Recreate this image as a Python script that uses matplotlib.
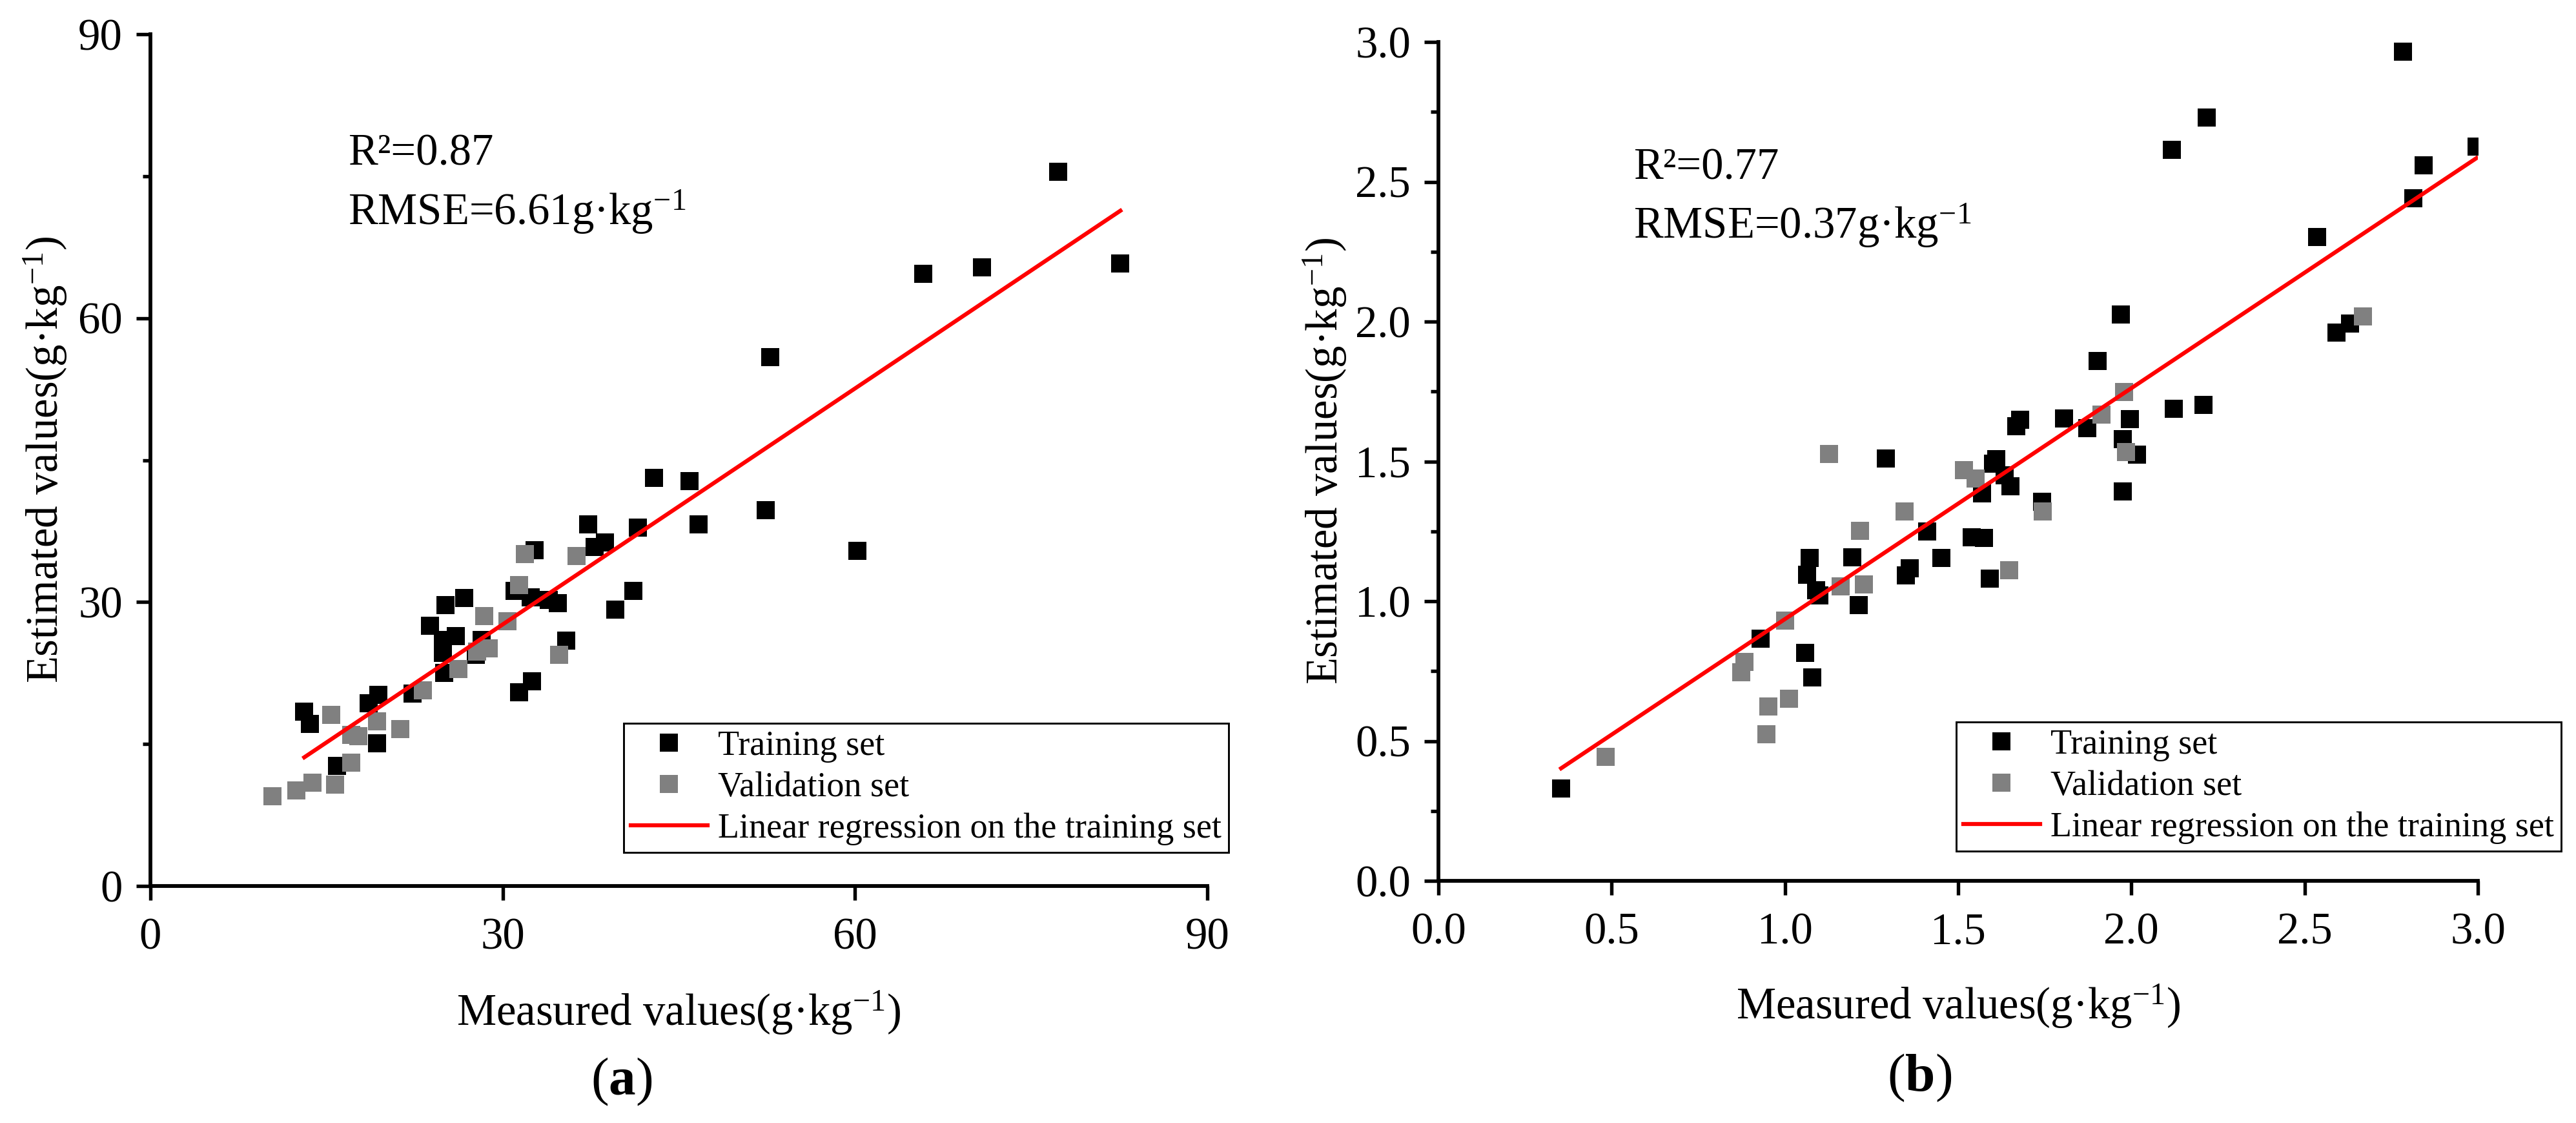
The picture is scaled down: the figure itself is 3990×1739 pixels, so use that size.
import matplotlib
matplotlib.use("Agg")
import matplotlib.pyplot as plt
from matplotlib.ticker import MultipleLocator, FormatStrFormatter
import numpy as np

plt.rcParams['font.family'] = ['Liberation Serif', 'DejaVu Serif']
plt.rcParams['mathtext.fontset'] = 'custom'
plt.rcParams['mathtext.rm'] = 'Liberation Serif'
plt.rcParams['mathtext.it'] = 'Liberation Serif:italic'
plt.rcParams['mathtext.bf'] = 'Liberation Serif:bold'

# ---------------- data: panel (a) ----------------
a_train_x = [77.3, 65.8, 70.8, 82.6, 52.8, 42.9, 45.9, 52.4, 46.7, 37.3, 41.5, 60.2,
             32.7, 37.8, 38.7, 41.1, 39.6, 34.7, 33.9, 32.4, 31.0, 35.4, 32.5, 31.4,
             26.7, 25.1, 23.8, 26.0, 24.9, 24.9, 27.7, 28.2, 25.0, 22.3, 19.4, 18.6,
             19.3, 13.1, 13.6, 15.9]
a_train_y = [75.5, 64.7, 65.4, 65.8, 55.9, 43.1, 42.8, 39.7, 38.2, 38.2, 37.9, 35.4,
             35.5, 35.8, 36.3, 31.2, 29.2, 29.9, 30.2, 30.5, 31.2, 25.9, 21.6, 20.5,
             30.4, 29.7, 27.5, 26.4, 26.0, 24.6, 24.4, 26.0, 22.5, 20.3, 20.2, 19.3,
             15.1, 18.4, 17.1, 12.7]
a_val_x = [10.4, 12.4, 13.8, 15.7, 17.1, 15.4, 17.1, 17.7, 19.3, 21.3, 23.2, 26.2,
           27.8, 28.8, 28.4, 30.4, 31.4, 31.9, 36.3, 34.8]
a_val_y = [9.5, 10.1, 10.9, 10.7, 13.0, 18.1, 16.0, 15.8, 17.4, 16.6, 20.7, 22.9,
           24.8, 25.1, 28.5, 28.0, 31.8, 35.1, 34.9, 24.4]
a_slope, a_intercept = 0.831, 2.71
a_r2_text = "R²=0.87"
a_rmse_text = r"RMSE=6.61g·kg$^{-1}$"

# ---------------- data: panel (b) ----------------
b_train_x = [2.784, 2.217, 2.117, 2.996, 2.843, 2.813, 2.536, 1.969, 2.592, 2.631,
             2.208, 2.122, 1.902, 1.996, 1.806, 1.872, 1.679, 1.667, 1.975, 2.016,
             1.610, 1.600, 1.634, 1.651, 1.569, 1.975, 1.742, 1.291, 1.410, 1.451,
             1.539, 1.574, 1.591, 1.360, 1.349, 1.194, 1.213, 1.071, 1.064, 1.090,
             1.099, 0.930, 1.058, 1.079, 0.354]
b_train_y = [2.965, 2.730, 2.614, 2.626, 2.559, 2.441, 2.303, 2.025, 1.961, 1.993,
             1.703, 1.688, 1.859, 1.651, 1.654, 1.619, 1.649, 1.626, 1.580, 1.524,
             1.508, 1.492, 1.450, 1.411, 1.386, 1.393, 1.356, 1.511, 1.249, 1.155,
             1.229, 1.226, 1.081, 1.118, 1.092, 1.157, 0.986, 1.155, 1.095, 1.039,
             1.021, 0.866, 0.815, 0.727, 0.330]
b_val_x = [0.483, 0.947, 0.952, 1.012, 0.874, 0.883, 1.001, 1.161, 1.228, 1.217,
           1.127, 1.345, 1.517, 1.550, 1.647, 1.744, 1.914, 1.979, 1.984, 2.668]
b_val_y = [0.443, 0.524, 0.624, 0.651, 0.746, 0.783, 0.931, 1.053, 1.060, 1.252,
           1.527, 1.321, 1.469, 1.439, 1.111, 1.321, 1.667, 1.748, 1.533, 2.018]
b_slope, b_intercept = 0.826, 0.110
b_r2_text = "R²=0.77"
b_rmse_text = r"RMSE=0.37g·kg$^{-1}$"

labels = ["Training set", "Validation set", "Linear regression on the training set"]
x_label = r"Measured values(g·kg$^{-1}$)"
y_label = r"Estimated values(g·kg$^{-1}$)"

W, H = 3990, 1739
DPI = 300
fig = plt.figure(figsize=(W / DPI, H / DPI), dpi=DPI)


def fx(px):
    return px / W


def fy(py):
    return 1 - py / H


def make_panel(rect, tx, ty, vx, vy, slope, intercept, lim, major, minor, fmt,
               r2, rmse, txt_x, r2_base, rmse_base, ylab_x, xlab_base, panel, panel_xy,
               leg_xy):
    left, top, right, bottom = rect
    ax = fig.add_axes([fx(left), fy(bottom), fx(right) - fx(left), fy(top) - fy(bottom)])
    ms = 6.7
    h1, = ax.plot(tx, ty, linestyle='none', marker='s', markersize=ms,
                  markerfacecolor='black', markeredgewidth=0, zorder=3)
    h2, = ax.plot(vx, vy, linestyle='none', marker='s', markersize=ms,
                  markerfacecolor='#808080', markeredgewidth=0, zorder=3)
    xr = np.array([min(tx), max(tx)])
    h3, = ax.plot(xr, slope * xr + intercept, color='#ff0000', linewidth=1.5, zorder=4)
    ax.set_xlim(lim)
    ax.set_ylim(lim)
    ax.spines['top'].set_visible(False)
    ax.spines['right'].set_visible(False)
    for s in ['left', 'bottom']:
        ax.spines[s].set_linewidth(1.4)
    ax.xaxis.set_major_locator(MultipleLocator(major))
    ax.yaxis.set_major_locator(MultipleLocator(major))
    ax.yaxis.set_minor_locator(MultipleLocator(minor))
    ax.xaxis.set_major_formatter(FormatStrFormatter(fmt))
    ax.yaxis.set_major_formatter(FormatStrFormatter(fmt))
    ax.tick_params(which='major', direction='out', length=5.3, width=1.3, labelsize=16.5)
    ax.tick_params(which='minor', direction='out', length=2.8, width=1.3)
    ax.tick_params(axis='x', which='major', pad=6.5)
    ax.tick_params(axis='y', which='major', pad=5.0)

    fig.text(fx(txt_x), fy(r2_base), r2, fontsize=16.5, ha='left', va='baseline')
    fig.text(fx(txt_x), fy(rmse_base), rmse, fontsize=16.5, ha='left', va='baseline')

    cx = (left + right) / 2
    cy = (top + bottom) / 2
    fig.text(fx(cx), fy(xlab_base), x_label, fontsize=16.5, ha='center', va='baseline')
    fig.text(fx(ylab_x), fy(cy), y_label, fontsize=16.5, ha='center', va='center',
             rotation=90)
    fig.text(fx(panel_xy[0]), fy(panel_xy[1]), "(" + r"$\mathbf{" + panel + "}$" + ")",
             fontsize=20, ha='center', va='center')

    leg = ax.legend([h1, h2, h3], labels, loc='upper left',
                    bbox_to_anchor=(fx(leg_xy[0]), fy(leg_xy[1])),
                    bbox_transform=fig.transFigure, fontsize=13.0, frameon=True,
                    fancybox=False, borderpad=0.2, borderaxespad=0,
                    handlelength=2.2, handletextpad=0.3, labelspacing=0.25,
                    framealpha=1)
    leg.get_frame().set_edgecolor('black')
    leg.get_frame().set_linewidth(0.7)
    return ax


make_panel((233, 53, 1870, 1372), a_train_x, a_train_y, a_val_x, a_val_y,
           a_slope, a_intercept, (0, 90), 30, 15, '%d',
           a_r2_text, a_rmse_text, 539, 255, 348, 70, 1588, 'a', (963, 1675),
           (966, 1120))
make_panel((2228, 65, 3838, 1364), b_train_x, b_train_y, b_val_x, b_val_y,
           b_slope, b_intercept, (0, 3.0), 0.5, 0.25, '%.1f',
           b_r2_text, b_rmse_text, 2530, 277, 369, 2052, 1578, 'b', (2973, 1669),
           (3030, 1118))

fig.savefig("out.png", dpi=DPI)
